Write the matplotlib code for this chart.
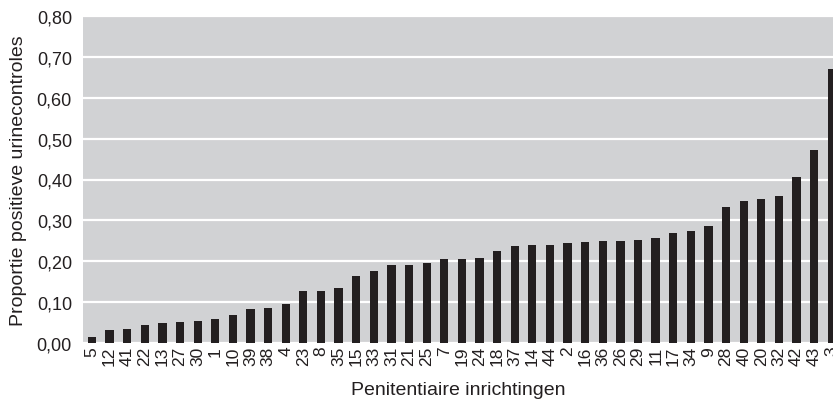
import numpy as np
import matplotlib.pyplot as plt

plt.rcParams['font.family'] = ['Liberation Sans', 'DejaVu Sans']

# inrichting-nummers (gesorteerd op proportie)
labels = ['5', '12', '41', '22', '13', '27', '30', '1', '10', '39', '38', '4', '23', '8', '35',
          '15', '33', '31', '21', '25', '7', '19', '24', '18', '37', '14', '44', '2', '16', '36',
          '26', '29', '11', '17', '34', '9', '28', '40', '20', '32', '42', '43', '3']
proportie = [0.015, 0.033, 0.035, 0.045, 0.049, 0.052, 0.055, 0.059, 0.068, 0.083, 0.086, 0.095,
             0.126, 0.127, 0.134, 0.164, 0.176, 0.191, 0.191, 0.196, 0.205, 0.205, 0.208, 0.225,
             0.237, 0.240, 0.240, 0.245, 0.247, 0.250, 0.250, 0.252, 0.257, 0.269, 0.274, 0.286,
             0.333, 0.347, 0.352, 0.360, 0.406, 0.472, 0.670]

yticks = [0.0, 0.1, 0.2, 0.3, 0.4, 0.5, 0.6, 0.7, 0.8]

fig = plt.figure(figsize=(8.33, 4.06), dpi=100)
ax = fig.add_axes([83/833, 1-344/406, 1-83/833, (344-17)/406])
ax.set_facecolor('#d1d2d4')

x = np.arange(len(labels))
ax.bar(x, proportie, width=0.47, color='#231f20', zorder=3)

ax.set_ylim(0, 0.8)
ax.set_xlim(-0.51, 42.07)
ax.set_yticks(yticks)
ax.set_yticklabels(['{:.2f}'.format(v).replace('.', ',') for v in yticks], fontsize=13, color='#231f20')
ax.set_xticks(x)
ax.set_xticklabels(labels, rotation=90, fontsize=12.5, color='#231f20')
ax.tick_params(length=0)
ax.tick_params(axis='y', pad=8)
ax.tick_params(axis='x', pad=2)

ax.grid(axis='y', color='white', linewidth=1.6, zorder=1)
for s in ax.spines.values():
    s.set_visible(False)

ax.set_ylabel('Proportie positieve urinecontroles', fontsize=14, color='#231f20', labelpad=7)
ax.set_xlabel('Penitentiaire inrichtingen', fontsize=14, color='#231f20', labelpad=11)

plt.savefig('out.png', dpi=100)
